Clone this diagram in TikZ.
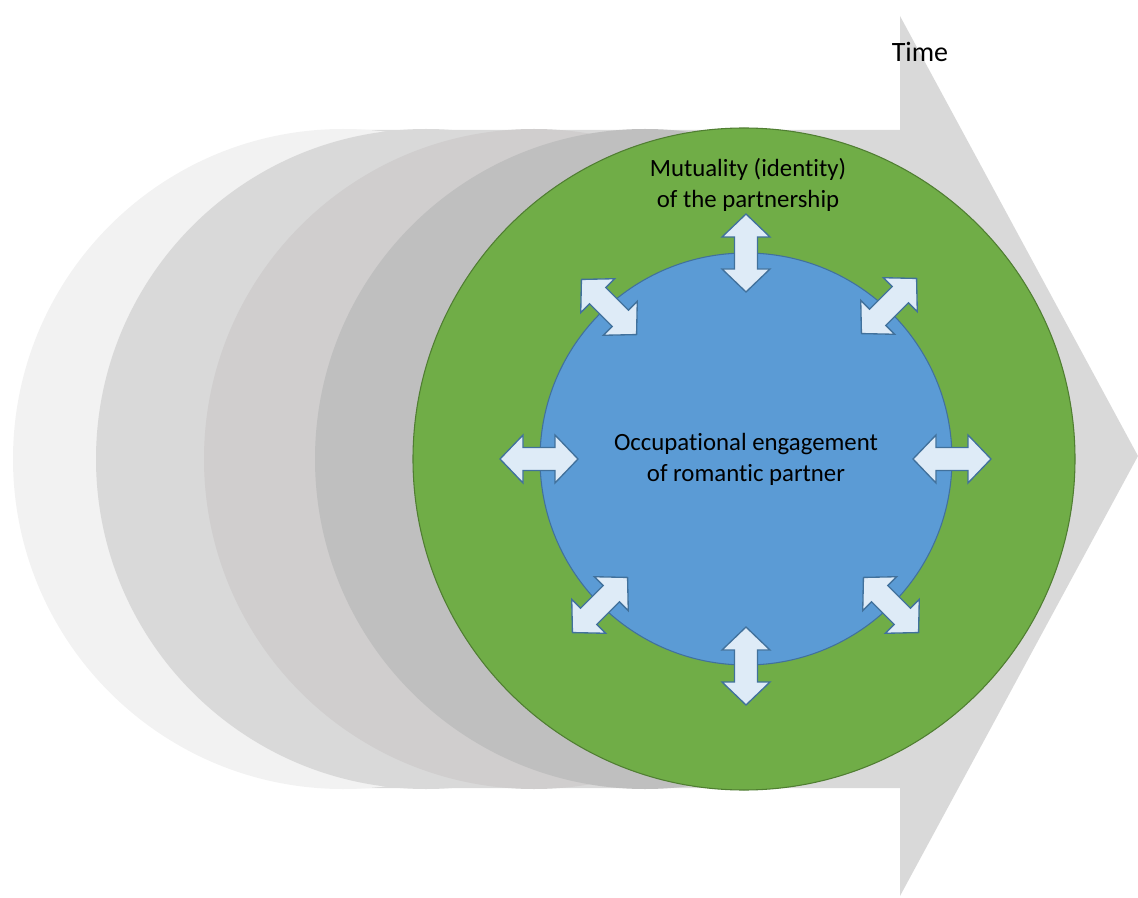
\documentclass[tikz,border=0pt]{standalone}
\usepackage{fontspec}
\setmainfont{Carlito}[Ligatures=NoCommon]
\usetikzlibrary{positioning}

\definecolor{timegray}{HTML}{D9D9D9}
\definecolor{phaseA}{HTML}{F2F2F2}
\definecolor{phaseB}{HTML}{D9D9D9}
\definecolor{phaseC}{HTML}{D0CECE}
\definecolor{phaseD}{HTML}{BFBFBF}
\definecolor{ringgreen}{HTML}{70AD47}
\definecolor{ringedge}{HTML}{507E32}
\definecolor{coreblue}{HTML}{5B9BD5}
\definecolor{coreedge}{HTML}{41719C}
\definecolor{swapfill}{HTML}{DEEBF7}

\tikzset{
    phase/.style={circle, inner sep=0pt, minimum size=495pt},
    ring/.style={circle, inner sep=0pt, minimum size=496.5pt, fill=ringgreen, draw=ringedge, line width=0.8pt},
    core/.style={circle, inner sep=0pt, minimum size=309pt, fill=coreblue, draw=coreedge, line width=0.8pt, align=center, font=\fontsize{18.6}{23.2}\selectfont},
    label/.style={align=center, font=\fontsize{18.6}{23.2}\selectfont},
    swap/.pic={
        \draw[fill=swapfill, draw=coreedge, line width=1pt, line join=miter]
            (-39,0) -- (-16,-24) -- (-16,-11.5) -- (16,-11.5) -- (16,-24) -- (39,0)
            -- (16,24) -- (16,11.5) -- (-16,11.5) -- (-16,24) -- cycle;
    }
}

\begin{document}
\begin{tikzpicture}[x=0.75pt, y=-0.75pt]
    \useasboundingbox (0,0) rectangle (1138,898);

    \coordinate (T1) at (343,130);
    \coordinate (T2) at (900,130);
    \coordinate (T3) at (900,16);
    \coordinate (T4) at (1138,456);
    \coordinate (T5) at (900,896);
    \coordinate (T6) at (900,788);
    \coordinate (T7) at (343,788);

    \fill[timegray] (T1) -- (T2) -- (T3) -- (T4) -- (T5) -- (T6) -- (T7) -- cycle;

    \node[phase, fill=phaseA] (past1) at (343,459) {};
    \node[phase, fill=phaseB] (past2) at (426,459) {};
    \node[phase, fill=phaseC] (past3) at (534,459) {};
    \node[phase, fill=phaseD] (past4) at (645,459) {};

    \node[ring] (mutual) at (744,459) {};
    \node[core] (engage) at (746,459) {Occupational engagement\\of romantic partner};

    \foreach \x/\y/\a in {746/253/90, 746/666/90, 539/459/0, 952/459/0,
                          609/307/-45, 891/605/-45, 889/306/45, 600/605/45}
        \pic[rotate=\a] at (\x,\y) {swap};

    \node[label] (mutualtext) at (748,185) {Mutuality (identity)\\of the partnership};
    \node[label, font=\fontsize{21}{25}\selectfont] (time) at (920,52) {Time};
\end{tikzpicture}
\end{document}
